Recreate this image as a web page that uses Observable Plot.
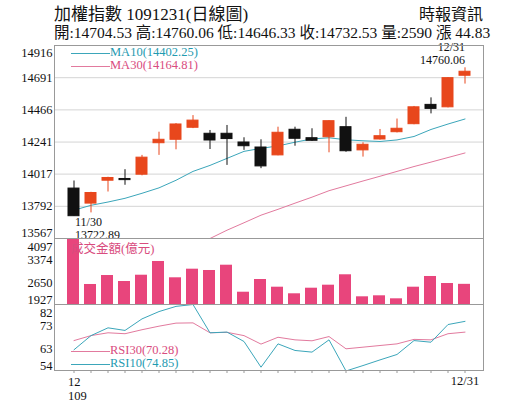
<!DOCTYPE html>
<html><head><meta charset="utf-8">
<script src="https://cdn.jsdelivr.net/npm/d3@7"></script>
<script src="https://cdn.jsdelivr.net/npm/@observablehq/plot@0.6"></script>
<style>
body{margin:0;background:#fff;}
#c{position:relative;width:515px;height:413px;overflow:hidden;font-family:"Liberation Serif","Noto Sans CJK TC",serif;color:#111;}
.abs{position:absolute;white-space:nowrap;line-height:1;}
.leg{position:absolute;white-space:nowrap;font-size:12.5px;line-height:11px;}
.leg i{display:inline-block;width:39px;height:0;border-top:1px solid;vertical-align:middle;}
.pl{position:absolute;left:0;}
</style></head>
<body><div id="c"></div>
<script>
// ---- data ----
const dates = ["11/30","12/1","12/2","12/3","12/4","12/7","12/8","12/9","12/10","12/11","12/14","12/15","12/16","12/17","12/18","12/21","12/22","12/23","12/24","12/25","12/28","12/29","12/30","12/31"];
const open  = [13916,13811,13971,13983,14013,14233,14257,14341,14299,14299,14238,14203,14148,14327,14268,14275,14345,14183,14259,14310,14366,14501,14484,14704.53];
const high  = [13969,13890,13995,14048,14148,14310,14370,14426,14322,14357,14271,14257,14345,14345,14334,14390,14414,14236,14329,14402,14490,14550,14692,14760.06];
const low   = [13722.89,13746,13892,13939,14005,14148,14187,14335,14189,14078,14183,14055,14145,14212,14245,14166,14170,14136,14255,14305,14362,14438,14480,14646.33];
const close = [13722.89,13885,13990,13975,14132,14257,14364,14391,14252,14262,14212,14071,14306,14264,14250,14387,14177,14222,14282,14334,14484,14473,14687.70,14732.53];
const ma10  = [13765,13799,13822,13848,13883,13921,13974,14036,14078,14127,14176,14197,14214,14240,14263,14271,14257,14250,14245,14256,14280,14329,14367,14402.25];
const ma30  = [13567,13567,13567,13567,13567,13567,13567,13567,13567,13625,13677,13730,13771,13814,13856,13901,13935,13969,14002,14036,14070,14101,14133,14164.81];
const volume= [4090,2585,2880,2683,2890,3341,2805,3088,3045,3219,2331,2749,2496,2279,2463,2562,2904,2180,2213,2114,2496,2848,2617,2590];
const rsi30 = [66.7,68.8,70.0,69.6,71.3,72.8,74.1,74.2,70.0,70.2,68.8,65.2,68.1,67.0,66.6,68.4,63.2,63.9,64.6,65.3,67.2,67.0,69.6,70.28];
const rsi10 = [62.8,68.8,72.1,71.0,75.9,79.0,81.2,82.0,70.0,70.3,66.3,55.4,65.3,62.5,61.8,67.0,53.8,56.1,58.5,60.8,66.7,66.0,73.5,74.85];
const priceTicks = [14916,14691,14466,14241,14017,13792,13567];
const volTicks = [4097,3374,2650,1927];
const rsiTicks = [82,73,63,54];
const xTickLabels = ["12\n109","12/31"];
const titleText = "加權指數 1091231(日線圖)";
const sourceText = "時報資訊";
const volTitle = "成交金額(億元)";

// ---- styles ----
const UP="#e8471c", DOWN="#111111", TEAL="#3ba6ba", PINK="#e27a9e", VOL="#e8457c";
const TEALTXT="#1f9bb1", PINKTXT="#d94c7e";

const rows = dates.map((d,i)=>({date:d,open:open[i],high:high[i],low:low[i],close:close[i],ma10:ma10[i],ma30:ma30[i],vol:volume[i],rsi30:rsi30[i],rsi10:rsi10[i]}));
const first = rows[0], last = rows[rows.length-1], prev = rows[rows.length-2];
const col = d => d.close >= d.open ? UP : DOWN;

const C = document.getElementById("c");
function addDiv(cls, css, html){const e=document.createElement("div");e.className=cls;e.style.cssText=css;e.innerHTML=html;C.appendChild(e);return e;}

// header
addDiv("abs","left:54px;top:6px;font-size:17px;",titleText);
addDiv("abs","right:32px;top:7px;font-size:16px;",sourceText);
addDiv("abs","left:54px;top:24.5px;font-size:15.5px;",
  `開:${last.open.toFixed(2)} 高:${last.high.toFixed(2)} 低:${last.low.toFixed(2)} 收:${last.close.toFixed(2)} 量:${last.vol} 漲 ${(last.close-prev.close).toFixed(2)}`);

const W=515, ML=54, MR=32;
const style = {fontFamily:'"Liberation Serif","Noto Sans CJK TC",serif', fontSize:"12.5px", background:"none", overflow:"visible", color:"#111"};
const xBand = (pi,po)=>({type:"band", domain:dates, paddingInner:pi, paddingOuter:po, axis:null});
const fmt = d => `${d}`;
const yAxes = (ticks, dTop, dBot) => [
  Plot.axisY(ticks.slice(1,-1), {tickSize:0, tickPadding:2, tickFormat:fmt, label:null}),
  Plot.axisY([ticks[0]], {tickSize:0, tickPadding:2, dy:dTop, tickFormat:fmt, label:null}),
  Plot.axisY([ticks[ticks.length-1]], {tickSize:0, tickPadding:2, dy:dBot, tickFormat:fmt, label:null})
];

const pA = Plot.plot({
  width:W, height:213, marginLeft:ML, marginRight:MR, marginTop:20, marginBottom:0, style,
  x: xBand(0.36,0.68),
  y: {domain:[priceTicks[priceTicks.length-1], priceTicks[0]]},
  color: {type:"identity"},
  marks: [
    Plot.gridY(priceTicks.slice(1,-1), {stroke:"#d4d4d4", strokeOpacity:1}),
    ...yAxes(priceTicks, 7, -6),
    Plot.line(rows, {x:"date", y:"ma30", stroke:PINK, strokeWidth:1}),
    Plot.line(rows, {x:"date", y:"ma10", stroke:TEAL, strokeWidth:1}),
    Plot.ruleX(rows, {x:"date", y1:"low", y2:"high", stroke:col, strokeWidth:1}),
    Plot.barY(rows, {x:"date", y1:"open", y2:"close", fill:col, stroke:col, strokeWidth:1}),
    Plot.text([first], {x:"date", y:"low", text:"date", textAnchor:"start", dx:1, dy:6, fontSize:12}),
    Plot.text([first], {x:"date", y:"low", text:d=>d.low.toFixed(2), textAnchor:"start", dx:1, dy:18.5, fontSize:12}),
    Plot.text([last], {x:"date", y:"high", text:"date", textAnchor:"end", dy:-20.5, fontSize:12}),
    Plot.text([last], {x:"date", y:"high", text:d=>d.high.toFixed(2), textAnchor:"end", dy:-7.5, fontSize:12}),
    Plot.frame({stroke:"#999"})
  ]
});
pA.classList.add("pl"); pA.style.top="25px"; C.appendChild(pA);

const pB = Plot.plot({
  width:W, height:66, marginLeft:ML, marginRight:MR, marginTop:0, marginBottom:0, style,
  x: xBand(0.3,0.65),
  y: {domain:[volTicks[volTicks.length-1], volTicks[0]]},
  marks: [
    Plot.barY(rows, {x:"date", y1:()=>volTicks[volTicks.length-1], y2:"vol", fill:VOL, clip:true}),
    ...yAxes(volTicks, 8, -5),
    Plot.frame({stroke:"#999"})
  ]
});
pB.classList.add("pl"); pB.style.top="238px"; C.appendChild(pB);

const tickRows = [{date:dates[0], label:xTickLabels[0]},{date:dates[dates.length-1], label:xTickLabels[1]}];
const pC = Plot.plot({
  width:W, height:109, marginLeft:ML, marginRight:MR, marginTop:0, marginBottom:43, style,
  x: xBand(0.36,0.68),
  y: {domain:[rsiTicks[rsiTicks.length-1], rsiTicks[0]]},
  marks: [
    Plot.line(rows, {x:"date", y:"rsi30", stroke:PINK, strokeWidth:1, clip:true}),
    Plot.line(rows, {x:"date", y:"rsi10", stroke:TEAL, strokeWidth:1, clip:true}),
    ...yAxes(rsiTicks, 8, -5),
    Plot.axisX(dates, {tickSize:3, tickFormat:()=>"", stroke:"#999", label:null}),
    Plot.text([tickRows[0]], {x:"date", text:"label", frameAnchor:"bottom", textAnchor:"start", dx:-6, dy:6, lineAnchor:"top", lineHeight:1.12}),
    Plot.text([tickRows[1]], {x:"date", text:"label", frameAnchor:"bottom", textAnchor:"middle", dy:6, lineAnchor:"top"}),
    Plot.frame({stroke:"#999"})
  ]
});
pC.classList.add("pl"); pC.style.top="304px"; C.appendChild(pC);

// legends
addDiv("leg",`left:71px;top:${52.5-5.5}px;color:${TEALTXT};`,`<i style="border-color:${TEAL}"></i>MA10(${last.ma10.toFixed(2)})`);
addDiv("leg",`left:71px;top:${65.5-5.5}px;color:${PINKTXT};`,`<i style="border-color:${PINK}"></i>MA30(${last.ma30.toFixed(2)})`);
addDiv("leg",`left:71px;top:${249-5.5}px;color:${PINKTXT};`,volTitle);
addDiv("leg",`left:71px;top:${350.5-5.5}px;color:${PINKTXT};`,`<i style="border-color:${PINK}"></i>RSI30(${last.rsi30.toFixed(2)})`);
addDiv("leg",`left:71px;top:${363.5-5.5}px;color:${TEALTXT};`,`<i style="border-color:${TEAL}"></i>RSI10(${last.rsi10.toFixed(2)})`);
</script>
</body></html>
